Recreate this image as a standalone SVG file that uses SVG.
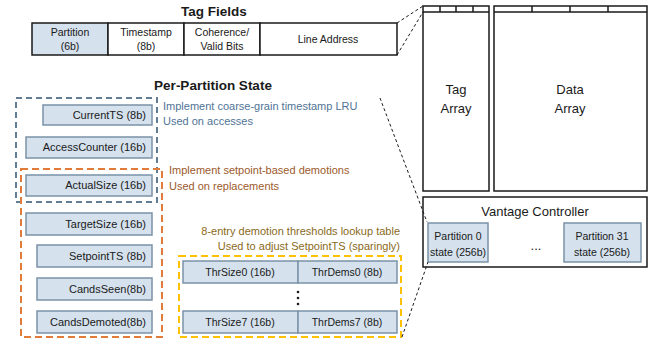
<svg xmlns="http://www.w3.org/2000/svg" width="656" height="341" viewBox="0 0 656 341">
<style>
text{font-family:"Liberation Sans",Arial,sans-serif;fill:#1a1a1a}
.t{font-size:13.5px;font-weight:bold;text-anchor:middle}
.f{font-size:10.5px;text-anchor:middle}
.r{font-size:11px;text-anchor:end}
.reg{fill:#d5e1ed;stroke:#7b92a8;stroke-width:1.5}
.cell{fill:#fff;stroke:#1a1a1a;stroke-width:1.5}
.big{font-size:13px;text-anchor:middle}
.conn{fill:none;stroke:#1a1a1a;stroke-width:1;stroke-dasharray:3,2.5}
</style>
<text class="t" x="214" y="16">Tag Fields</text>
<g id="tagfields">
<rect x="32" y="23" width="76" height="32" class="reg" style="stroke:#1a1a1a"/>
<rect x="108" y="23" width="76" height="32" class="cell"/>
<rect x="184" y="23" width="76" height="32" class="cell"/>
<rect x="260" y="23" width="137" height="32" class="cell"/>
<text class="f" x="70" y="36">Partition</text><text class="f" x="70" y="50">(6b)</text>
<text class="f" x="146" y="36">Timestamp</text><text class="f" x="146" y="50">(8b)</text>
<text class="f" x="222" y="36">Coherence/</text><text class="f" x="222" y="50">Valid Bits</text>
<text class="f" x="328" y="43">Line Address</text>
</g>
<g id="tagarray">
<rect x="423" y="6" width="66" height="185" class="cell"/>
<path d="M423 12H489M440 6V12M456 6V12M473 6V12" stroke="#1a1a1a" stroke-width="1.5" fill="none"/>
<text class="big" x="456" y="94">Tag</text><text class="big" x="456" y="113">Array</text>
</g>
<g id="dataarray">
<rect x="494" y="6" width="153" height="185" class="cell"/>
<path d="M494 12H647M532 6V12M570 6V12M608 6V12" stroke="#1a1a1a" stroke-width="1.5" fill="none"/>
<text class="big" x="570" y="94">Data</text><text class="big" x="570" y="113">Array</text>
</g>
<g id="vantage">
<rect x="423" y="197" width="224" height="70" class="cell"/>
<text class="big" x="535" y="216">Vantage Controller</text>
<rect x="428" y="223" width="60" height="39" class="reg"/>
<text class="f" x="458" y="240">Partition 0</text><text class="f" x="458" y="256">state (256b)</text>
<text class="big" x="536" y="250">...</text>
<rect x="564" y="223" width="77" height="39" class="reg"/>
<text class="f" x="602" y="240">Partition 31</text><text class="f" x="602" y="256">state (256b)</text>
</g>
<text class="t" x="213" y="90">Per-Partition State</text>
<g id="blue-group">
<rect x="16" y="98" width="141" height="104" fill="none" stroke="#637d94" stroke-width="2" stroke-dasharray="6,4"/>
<text x="163" y="110" font-size="11" style="fill:#4f7396">Implement coarse-grain timestamp LRU</text>
<text x="163" y="125" font-size="11" style="fill:#4f7396">Used on accesses</text>
</g>
<g id="orange-group">
<rect x="21" y="169" width="141" height="168" fill="none" stroke="#e07b39" stroke-width="2" stroke-dasharray="7,4"/>
<text x="169" y="174" font-size="11" style="fill:#9c5a2c">Implement setpoint-based demotions</text>
<text x="169" y="190" font-size="11" style="fill:#9c5a2c">Used on replacements</text>
</g>
<g id="currentts"><rect x="43" y="105" width="109" height="20" class="reg"/><text class="r" x="146" y="119">CurrentTS (8b)</text></g>
<g id="accesscounter"><rect x="26" y="137" width="126" height="21" class="reg"/><text class="r" x="146" y="151">AccessCounter (16b)</text></g>
<g id="actualsize"><rect x="26" y="175" width="126" height="21" class="reg"/><text class="r" x="146" y="189">ActualSize (16b)</text></g>
<g id="targetsize"><rect x="26" y="213" width="126" height="22" class="reg"/><text class="r" x="146" y="228">TargetSize (16b)</text></g>
<g id="setpointts"><rect x="37" y="245" width="115" height="22" class="reg"/><text class="r" x="146" y="260">SetpointTS (8b)</text></g>
<g id="candsseen"><rect x="37" y="278" width="115" height="22" class="reg"/><text class="r" x="146" y="293">CandsSeen(8b)</text></g>
<g id="candsdemoted"><rect x="37" y="311" width="115" height="22" class="reg"/><text class="r" x="146" y="326">CandsDemoted(8b)</text></g>
<g id="thresholds">
<text x="400" y="235" font-size="11" text-anchor="end" style="fill:#8a6a1c">8-entry demotion thresholds lookup table</text>
<text x="400" y="250" font-size="11" text-anchor="end" style="fill:#8a6a1c">Used to adjust SetpointTS (sparingly)</text>
<rect x="179" y="256" width="222" height="81" fill="none" stroke="#ffc000" stroke-width="2" stroke-dasharray="7,4"/>
<rect x="183" y="261" width="115" height="22" class="reg"/><rect x="298" y="261" width="99" height="22" class="reg"/>
<text class="f" x="240" y="276" font-size="11">ThrSize0 (16b)</text><text class="f" x="347" y="276" font-size="11">ThrDems0 (8b)</text>
<circle cx="298" cy="292" r="1.3" fill="#1a1a1a"/><circle cx="298" cy="298" r="1.3" fill="#1a1a1a"/><circle cx="298" cy="304" r="1.3" fill="#1a1a1a"/>
<rect x="183" y="311" width="115" height="22" class="reg"/><rect x="298" y="311" width="99" height="22" class="reg"/>
<text class="f" x="240" y="326" font-size="11">ThrSize7 (16b)</text><text class="f" x="347" y="326" font-size="11">ThrDems7 (8b)</text>
</g>
<g id="connectors">
<path class="conn" d="M397 23L423 6"/>
<path class="conn" d="M397 55L423 12"/>
<path class="conn" d="M380 98L427 222"/>
<path class="conn" d="M402 337L428 262"/>
</g>
</svg>
